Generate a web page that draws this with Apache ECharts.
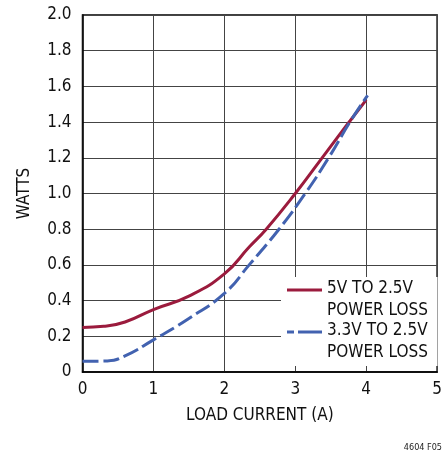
<!DOCTYPE html>
<html>
<head>
<meta charset="utf-8">
<script src="https://cdn.jsdelivr.net/npm/echarts@6/dist/echarts.min.js"></script>
<style>
  html, body { margin: 0; padding: 0; background: #fff; }
  #chart { width: 445px; height: 455px; }
</style>
</head>
<body>
<div id="chart"></div>
<script>
// Load current (A) and power loss (W) for the two conversion paths
const lossFrom5VCurrent = [0, 0.3, 0.6, 1.0, 1.5, 2.0, 2.35, 2.59, 3.0, 3.36, 3.73, 4.0];
const lossFrom5VWatts   = [0.25, 0.256, 0.28, 0.35, 0.425, 0.55, 0.7, 0.8, 1.0, 1.19, 1.385, 1.525];

const lossFrom3V3Current = [0, 0.35, 0.6, 1.0, 1.5, 2.0, 2.35, 2.77, 3.14, 3.47, 3.77, 4.02];
const lossFrom3V3Watts   = [0.06, 0.062, 0.09, 0.18, 0.3, 0.44, 0.6, 0.8, 1.0, 1.2, 1.4, 1.55];

const seriesNames = ['5V TO 2.5V\nPOWER LOSS', '3.3V TO 2.5V\nPOWER LOSS'];
const xTicks = [0, 1, 2, 3, 4, 5];
const yTicks = [0, 0.2, 0.4, 0.6, 0.8, 1.0, 1.2, 1.4, 1.6, 1.8, 2.0];

const FONT = "'Liberation Sans Narrow', 'Arial Narrow', 'DejaVu Sans Condensed', sans-serif";
const RED = '#9b1b3d';
const BLUE = '#4262b0';

const zip = (xs, ys) => xs.map((x, i) => [x, ys[i]]);

const chart = echarts.init(document.getElementById('chart'), null, { renderer: 'canvas' });

chart.setOption({
  animation: false,
  backgroundColor: '#fff',
  grid: {
    left: 82.5, right: 6.5, top: 15, bottom: 83,
    show: true, borderColor: '#000', borderWidth: 1.5, backgroundColor: 'transparent'
  },
  xAxis: {
    type: 'value',
    min: xTicks[0], max: xTicks[xTicks.length - 1], interval: 1,
    name: 'LOAD CURRENT (A)',
    nameLocation: 'middle',
    nameGap: 35,
    nameTextStyle: { fontFamily: FONT, fontSize: 17, color: '#111', verticalAlign: 'top' },
    axisLine: { show: true, lineStyle: { color: '#000', width: 1.5 } },
    axisTick: { show: false },
    axisLabel: {
      margin: 9, fontFamily: FONT, fontSize: 17, color: '#111',
      formatter: v => String(v)
    },
    splitLine: { show: true, lineStyle: { color: '#444', width: 1 } }
  },
  yAxis: {
    type: 'value',
    min: yTicks[0], max: yTicks[yTicks.length - 1], interval: 0.2,
    name: 'WATTS',
    nameLocation: 'middle',
    nameGap: 49,
    nameTextStyle: { fontFamily: FONT, fontSize: 17, color: '#111' },
    axisLine: { show: true, lineStyle: { color: '#000', width: 1.5 } },
    axisTick: { show: false },
    axisLabel: {
      margin: 11, fontFamily: FONT, fontSize: 17, color: '#111',
      formatter: v => (v === 0 ? '0' : v.toFixed(1))
    },
    splitLine: { show: true, lineStyle: { color: '#444', width: 1 } }
  },
  series: [
    {
      name: seriesNames[0],
      type: 'line',
      data: zip(lossFrom5VCurrent, lossFrom5VWatts),
      smooth: 0.5,
      showSymbol: false,
      lineStyle: { color: RED, width: 3 },
      z: 3
    },
    {
      name: seriesNames[1],
      type: 'line',
      data: zip(lossFrom3V3Current, lossFrom3V3Watts),
      smooth: 0.5,
      showSymbol: false,
      lineStyle: { color: BLUE, width: 3, type: [16, 5] },
      z: 4
    }
  ],
  graphic: [
    // legend panel sitting over the lower-right grid cells
    { type: 'rect', shape: { x: 281, y: 277, width: 156.5, height: 89 }, style: { fill: '#fff' }, z: 10 },
    { type: 'line', shape: { x1: 287, y1: 290, x2: 322, y2: 290 }, style: { stroke: RED, lineWidth: 3 }, z: 11 },
    { type: 'line', shape: { x1: 287, y1: 332, x2: 322, y2: 332 },
      style: { stroke: BLUE, lineWidth: 3, lineDash: [24, 4], lineDashOffset: 17 }, z: 11 },
    { type: 'text', x: 327, y: 278, z: 11,
      style: { text: seriesNames[0], font: '17px ' + FONT, fill: '#111', lineHeight: 22, textVerticalAlign: 'top' } },
    { type: 'text', x: 327, y: 320, z: 11,
      style: { text: seriesNames[1], font: '17px ' + FONT, fill: '#111', lineHeight: 22, textVerticalAlign: 'top' } },
    { type: 'text', x: 442, y: 447.5, z: 11,
      style: { text: '4604 F05', font: '9px ' + FONT, fill: '#222', textAlign: 'right', textVerticalAlign: 'middle' } }
  ]
});
</script>
</body>
</html>
